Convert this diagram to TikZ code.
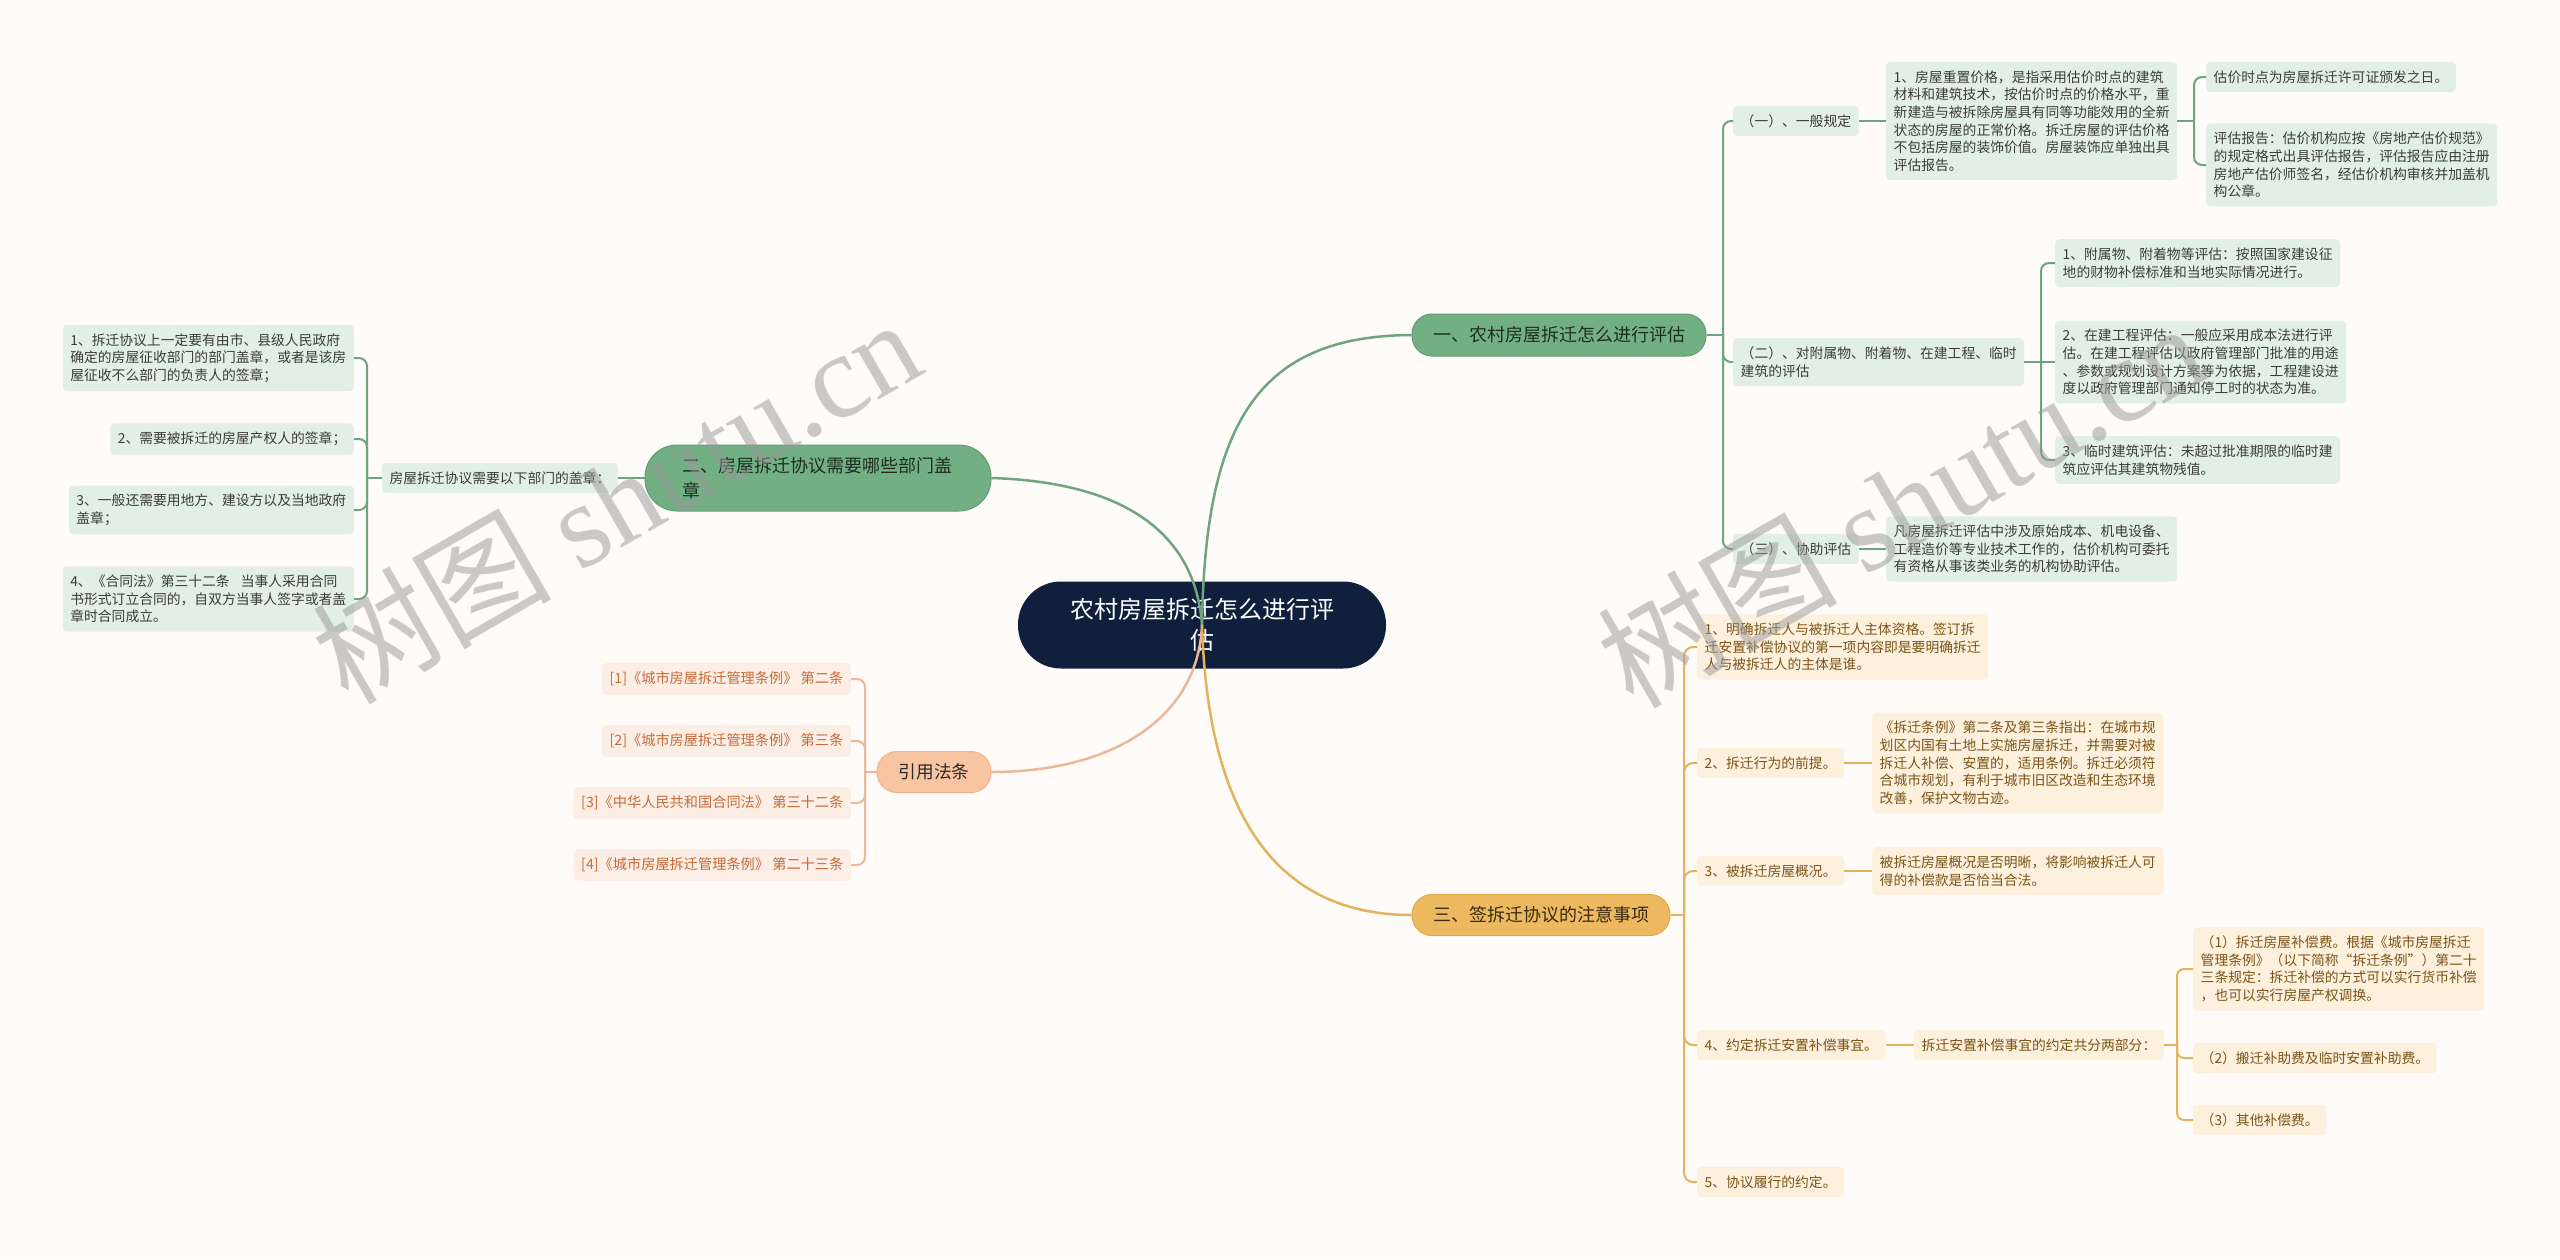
\documentclass[tikz,border=0pt]{standalone}
\usepackage{fontspec}
\setmainfont{Noto Sans CJK SC}
\newfontfamily\wmfont{Liberation Serif}
\definecolor{bgc}{HTML}{FFFBF9}
\definecolor{rootc}{HTML}{0F1F3C}
\definecolor{gfill}{HTML}{72B084}
\definecolor{gdraw}{HTML}{5F9E72}
\definecolor{gtext}{HTML}{1E2E22}
\definecolor{glfill}{HTML}{E1EFE5}
\definecolor{gltext}{HTML}{3C3C3C}
\definecolor{gline}{HTML}{6DA57F}
\definecolor{yfill}{HTML}{EDB960}
\definecolor{ydraw}{HTML}{E0A94A}
\definecolor{ytext}{HTML}{3A2A10}
\definecolor{ylfill}{HTML}{FDF0DD}
\definecolor{yltext}{HTML}{7B5418}
\definecolor{yline}{HTML}{E3B35C}
\definecolor{pfill}{HTML}{F8C4A2}
\definecolor{pdraw}{HTML}{F0B28C}
\definecolor{ptext}{HTML}{2B2B2B}
\definecolor{plfill}{HTML}{FCEEE5}
\definecolor{pltext}{HTML}{C56B3A}
\definecolor{pline}{HTML}{EBB89A}
\tikzset{
  rootbox/.style={fill=rootc, text=white, rounded corners=43pt, minimum width=368pt, minimum height=87pt, align=center, font=\fontsize{24}{31}\selectfont},
  brbox/.style={rounded corners=20pt, line width=1pt, minimum height=42pt, font=\fontsize{18}{25}\selectfont},
  leafbase/.style={rounded corners=4pt, inner xsep=7.5pt, inner ysep=8.6pt, align=left, font=\fontsize{13.8}{17.6}\selectfont},
  gleaf/.style={leafbase, fill=glfill, text=gltext},
  yleaf/.style={leafbase, fill=ylfill, text=yltext},
  pleaf/.style={leafbase, fill=plfill, text=pltext, font=\fontsize{14.2}{17.6}\selectfont},
  gcon/.style={draw=gline, line width=2pt},
  ycon/.style={draw=yline, line width=2pt},
  pcon/.style={draw=pline, line width=2pt},
  maincon/.style={line width=2.5pt},
  wmark/.style={rotate=30, anchor=base west, text=black!40, text opacity=0.5, font=\fontsize{120}{120}\selectfont}
}
\begin{document}
\begin{tikzpicture}[x=1pt,y=-1pt]
\useasboundingbox (0,0) rectangle (2560,1259);
\fill[bgc] (0,0) rectangle (2560,1259);

% root and branches
\node[rootbox] (root) at (1202,625) {农村房屋拆迁怎么进行评\\估};
\node[brbox, fill=gfill, draw=gdraw, text=gtext, minimum width=294pt] (b1) at (1559,335) {一、农村房屋拆迁怎么进行评估};
\node[brbox, fill=gfill, draw=gdraw, text=gtext, minimum width=346pt, minimum height=66pt, rounded corners=32pt, align=left, text width=272pt] (b2) at (818,478) {二、房屋拆迁协议需要哪些部门盖\\章};
\node[brbox, fill=yfill, draw=ydraw, text=ytext, minimum width=258pt, minimum height=41pt] (b3) at (1541,915) {三、签拆迁协议的注意事项};
\node[brbox, fill=pfill, draw=pdraw, text=ptext, minimum width=114pt, minimum height=41pt, font=\fontsize{17.7}{24}\selectfont] (b4) at (934,772) {引用法条};

% branch 1
\node[gleaf, anchor=west] (g1) at (1733,121) {（一）、一般规定};
\node[gleaf, anchor=west] (g1a) at (1886,121) {1、房屋重置价格，是指采用估价时点的建筑\\材料和建筑技术，按估价时点的价格水平，重\\新建造与被拆除房屋具有同等功能效用的全新\\状态的房屋的正常价格。拆迁房屋的评估价格\\不包括房屋的装饰价值。房屋装饰应单独出具\\评估报告。};
\node[gleaf, anchor=west] (g1a1) at (2206,77) {估价时点为房屋拆迁许可证颁发之日。};
\node[gleaf, anchor=west] (g1a2) at (2206,165) {评估报告：估价机构应按《房地产估价规范》\\的规定格式出具评估报告，评估报告应由注册\\房地产估价师签名，经估价机构审核并加盖机\\构公章。};
\node[gleaf, anchor=west] (g2) at (1733,362) {（二）、对附属物、附着物、在建工程、临时\\建筑的评估};
\node[gleaf, anchor=west] (g2a) at (2055,263) {1、附属物、附着物等评估：按照国家建设征\\地的财物补偿标准和当地实际情况进行。};
\node[gleaf, anchor=west] (g2b) at (2055,362) {2、在建工程评估：一般应采用成本法进行评\\估。在建工程评估以政府管理部门批准的用途\\、参数或规划设计方案等为依据，工程建设进\\度以政府管理部门通知停工时的状态为准。};
\node[gleaf, anchor=west] (g2c) at (2055,460) {3、临时建筑评估：未超过批准期限的临时建\\筑应评估其建筑物残值。};
\node[gleaf, anchor=west] (g3) at (1733,549) {（三）、协助评估};
\node[gleaf, anchor=west] (g3a) at (1886,549) {凡房屋拆迁评估中涉及原始成本、机电设备、\\工程造价等专业技术工作的，估价机构可委托\\有资格从事该类业务的机构协助评估。};

% branch 2
\node[gleaf, anchor=east] (m2) at (618,478) {房屋拆迁协议需要以下部门的盖章：};
\node[gleaf, anchor=east] (l1) at (354,358) {1、拆迁协议上一定要有由市、县级人民政府\\确定的房屋征收部门的部门盖章，或者是该房\\屋征收不么部门的负责人的签章；};
\node[gleaf, anchor=east] (l2) at (354,439) {2、需要被拆迁的房屋产权人的签章；};
\node[gleaf, anchor=east] (l3) at (354,510) {3、一般还需要用地方、建设方以及当地政府\\盖章；};
\node[gleaf, anchor=east] (l4) at (354,599) {4、《合同法》第三十二条\hspace{0.8em}当事人采用合同\\书形式订立合同的，自双方当事人签字或者盖\\章时合同成立。};

% branch 4
\node[pleaf, anchor=east] (r1) at (851,679) {[1]《城市房屋拆迁管理条例》 第二条};
\node[pleaf, anchor=east] (r2) at (851,741) {[2]《城市房屋拆迁管理条例》 第三条};
\node[pleaf, anchor=east] (r3) at (851,803) {[3]《中华人民共和国合同法》 第三十二条};
\node[pleaf, anchor=east] (r4) at (851,865) {[4]《城市房屋拆迁管理条例》 第二十三条};

% branch 3
\node[yleaf, anchor=west] (o1) at (1697,647) {1、明确拆迁人与被拆迁人主体资格。签订拆\\迁安置补偿协议的第一项内容即是要明确拆迁\\人与被拆迁人的主体是谁。};
\node[yleaf, anchor=west] (o2) at (1697,763) {2、拆迁行为的前提。};
\node[yleaf, anchor=west] (o2a) at (1872,763) {《拆迁条例》第二条及第三条指出：在城市规\\划区内国有土地上实施房屋拆迁，并需要对被\\拆迁人补偿、安置的，适用条例。拆迁必须符\\合城市规划，有利于城市旧区改造和生态环境\\改善，保护文物古迹。};
\node[yleaf, anchor=west] (o3) at (1697,871) {3、被拆迁房屋概况。};
\node[yleaf, anchor=west] (o3a) at (1872,871) {被拆迁房屋概况是否明晰，将影响被拆迁人可\\得的补偿款是否恰当合法。};
\node[yleaf, anchor=west] (o4) at (1697,1045) {4、约定拆迁安置补偿事宜。};
\node[yleaf, anchor=west] (o4a) at (1914,1045) {拆迁安置补偿事宜的约定共分两部分：};
\node[yleaf, anchor=west] (o4a1) at (2193,969) {（1）拆迁房屋补偿费。根据《城市房屋拆迁\\管理条例》（以下简称“拆迁条例”）第二十\\三条规定：拆迁补偿的方式可以实行货币补偿\\，也可以实行房屋产权调换。};
\node[yleaf, anchor=west] (o4a2) at (2193,1058) {（2）搬迁补助费及临时安置补助费。};
\node[yleaf, anchor=west] (o4a3) at (2193,1120) {（3）其他补偿费。};
\node[yleaf, anchor=west] (o5) at (1697,1182) {5、协议履行的约定。};

% trunk junctions
\coordinate (t1) at (1723,335);
\coordinate (t1a) at (2194,121);
\coordinate (t2) at (2041,362);
\coordinate (tm2) at (367,478);
\coordinate (t4) at (865,772);
\coordinate (t3) at (1684,915);
\coordinate (t4a) at (2177,1045);

% main connectors
\draw[maincon, draw=gline] (root.center) .. controls (1205,420) and (1260,336) .. (b1.west);
\draw[maincon, draw=gline] (b2.east) .. controls (1120,482) and (1195,530) .. (root.center);
\draw[maincon, draw=pline] (root.center) .. controls (1198,720) and (1110,772) .. (b4.east);
\draw[maincon, draw=yline] (root.center) .. controls (1208,820) and (1280,915) .. (b3.west);

% branch 1 connectors
\draw[gcon] (b1.east) -- (t1);
\foreach \c in {g1,g2,g3} \draw[gcon, rounded corners=8pt] (t1) |- (\c.west);
\draw[gcon] (g1.east) -- (g1a.west);
\draw[gcon] (g1a.east) -- (t1a);
\foreach \c in {g1a1,g1a2} \draw[gcon, rounded corners=8pt] (t1a) |- (\c.west);
\draw[gcon] (g2.east) -- (t2);
\draw[gcon] (t2) -- (g2b.west);
\foreach \c in {g2a,g2c} \draw[gcon, rounded corners=8pt] (t2) |- (\c.west);
\draw[gcon] (g3.east) -- (g3a.west);

% branch 2 connectors
\draw[gcon] (b2.west) -- (m2.east);
\draw[gcon] (m2.west) -- (tm2);
\foreach \c in {l1,l2,l3,l4} \draw[gcon, rounded corners=8pt] (tm2) |- (\c.east);

% branch 4 connectors
\draw[pcon] (b4.west) -- (t4);
\foreach \c in {r1,r2,r3,r4} \draw[pcon, rounded corners=8pt] (t4) |- (\c.east);

% branch 3 connectors
\draw[ycon] (b3.east) -- (t3);
\foreach \c in {o1,o2,o3,o4,o5} \draw[ycon, rounded corners=9pt] (t3) |- (\c.west);
\draw[ycon] (o2.east) -- (o2a.west);
\draw[ycon] (o3.east) -- (o3a.west);
\draw[ycon] (o4.east) -- (o4a.west);
\draw[ycon] (o4a.east) -- (t4a);
\foreach \c in {o4a1,o4a2,o4a3} \draw[ycon, rounded corners=7pt] (t4a) |- (\c.west);

% watermarks
\node[wmark] (wm1) at (345,708) {树图 {\wmfont shutu.cn}};
\node[wmark] (wm2) at (1630,712) {树图 {\wmfont shutu.cn}};
\end{tikzpicture}
\end{document}
